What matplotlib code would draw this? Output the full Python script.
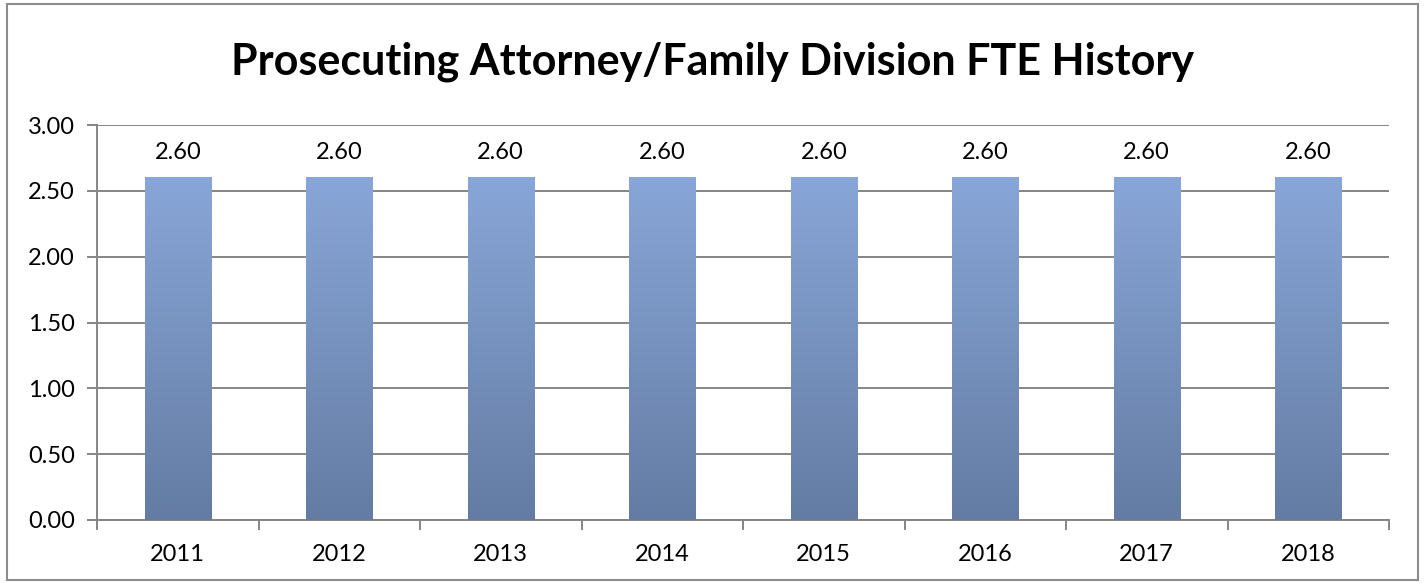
import numpy as np
import matplotlib.pyplot as plt
from matplotlib.patches import Rectangle
from matplotlib.colors import LinearSegmentedColormap

# FTE per year
years = ["2011", "2012", "2013", "2014", "2015", "2016", "2017", "2018"]
fte = [2.60, 2.60, 2.60, 2.60, 2.60, 2.60, 2.60, 2.60]
y_ticks = [0.0, 0.5, 1.0, 1.5, 2.0, 2.5, 3.0]

plt.rcParams["font.family"] = ["Lato", "DejaVu Sans"]
GRID = "#858585"
FS = 17

fig = plt.figure(figsize=(14.25, 5.83), dpi=100)
ax = fig.add_axes([97 / 1425, 1 - 520 / 583, (1389 - 97) / 1425, (520 - 125) / 583])

# outer chart border
fig.patches.append(Rectangle((7 / 1425, 3 / 583), 1411 / 1425, 576 / 583,
                             transform=fig.transFigure, fill=False,
                             edgecolor="#8c8c8c", lw=1.5))

x = np.arange(len(years))
width = 0.41
grad = LinearSegmentedColormap.from_list("bar", ["#647ca3", "#88a6d8"])
bars = ax.bar(x, fte, width=width, color="none", zorder=3)
for b, v in zip(bars, fte):
    x0 = b.get_x()
    ax.imshow(np.linspace(0, 1, 256).reshape(-1, 1), cmap=grad, origin="lower",
              extent=[x0, x0 + width, 0, v], aspect="auto", zorder=3)
    ax.text(b.get_x() + width / 2, v + 0.11, f"{v:.2f}", ha="center",
            va="bottom", fontsize=FS, zorder=4)

ax.set_xlim(-0.5, len(years) - 0.5)
ax.set_ylim(0, 3.0)
ax.set_yticks(y_ticks)
ax.set_yticklabels([f"{t:.2f}" for t in y_ticks])
ax.yaxis.grid(True, color=GRID, lw=1.4, zorder=0)
ax.set_axisbelow(True)

ax.set_xticks(x)
ax.set_xticklabels(years)
ax.set_xticks(np.arange(len(years) + 1) - 0.5, minor=True)
ax.tick_params(axis="x", which="major", length=0, pad=17, labelsize=FS)
ax.tick_params(axis="x", which="minor", length=7, width=1.4, color=GRID, direction="out")
ax.tick_params(axis="y", length=7, width=1.4, color=GRID, pad=9, labelsize=FS)

for s in ["top", "right"]:
    ax.spines[s].set_visible(False)
for s in ["left", "bottom"]:
    ax.spines[s].set_color(GRID)
    ax.spines[s].set_linewidth(1.4)

fig.text(0.5, 1 - 62 / 583, "Prosecuting Attorney/Family Division FTE History",
         ha="center", va="center", fontsize=31, fontweight="bold")

fig.savefig("out.png", dpi=100)
